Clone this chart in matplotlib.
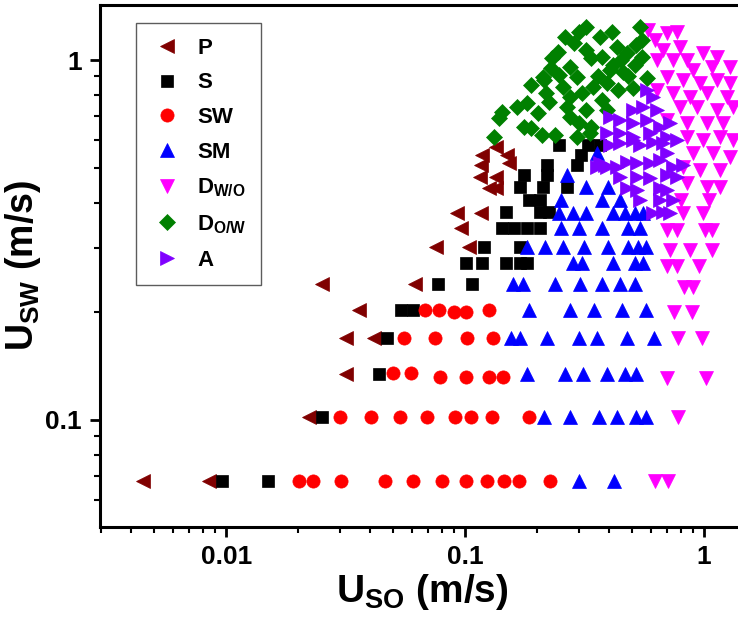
import numpy as np
import matplotlib
matplotlib.use("Agg")
import matplotlib.pyplot as plt
from matplotlib.ticker import FuncFormatter, LogLocator

plt.rcParams["font.family"] = ["Liberation Sans", "DejaVu Sans"]
plt.rcParams["font.weight"] = "bold"
plt.rcParams["mathtext.fontset"] = "custom"
plt.rcParams["mathtext.rm"] = "Liberation Sans"
plt.rcParams["mathtext.bf"] = "Liberation Sans:bold"

# === DATA (U_SO, U_SW in m/s) ===
p_x = [0.0045, 0.0085, 0.0221, 0.0316, 0.0316, 0.0415, 0.0359, 0.0251, 0.0616,
       0.0755, 0.104, 0.0962, 0.0925, 0.117,
       0.135, 0.118, 0.150, 0.117, 0.153, 0.115, 0.135, 0.126, 0.135]
p_y = [0.0677, 0.0677, 0.1017, 0.134, 0.169, 0.169, 0.202, 0.2386, 0.2386,
       0.3026, 0.3026, 0.341, 0.3756, 0.3756,
       0.573, 0.545, 0.545, 0.511, 0.518, 0.473, 0.473, 0.441, 0.441]

s_x = [0.0096, 0.0150, 0.0251, 0.0435, 0.047, 0.0538, 0.0605, 0.077, 0.107,
       0.101, 0.118, 0.149, 0.169, 0.182, 0.120, 0.169,
       0.143, 0.161, 0.181, 0.205, 0.149, 0.205, 0.225, 0.186, 0.205,
       0.169, 0.211, 0.266, 0.177, 0.221, 0.221, 0.293, 0.307, 0.248, 0.326, 0.366]
s_y = [0.0677, 0.0677, 0.1017, 0.134, 0.169, 0.202, 0.202, 0.2386, 0.2386,
       0.2727, 0.2727, 0.2727, 0.2727, 0.2727, 0.3026, 0.3026,
       0.341, 0.341, 0.341, 0.341, 0.378, 0.378, 0.378, 0.408, 0.408,
       0.444, 0.444, 0.444, 0.479, 0.479, 0.511, 0.511, 0.545, 0.581, 0.581, 0.581]

sw_x = [0.0201, 0.0230, 0.0301, 0.0461, 0.0605, 0.0801, 0.101, 0.1237, 0.1458, 0.1686, 0.2276,
        0.0299, 0.0403, 0.0533, 0.0692, 0.0908, 0.106, 0.130, 0.186,
        0.0498, 0.0593, 0.0785, 0.101, 0.126, 0.1445,
        0.0554, 0.0748, 0.102, 0.131,
        0.0679, 0.0778, 0.090, 0.101, 0.126]
sw_y = [0.0677] * 11 + [0.1017] * 8 + \
       [0.135, 0.135, 0.132, 0.132, 0.132, 0.132] + [0.169] * 4 + \
       [0.202, 0.202, 0.199, 0.199, 0.202]

sm_x = [0.301, 0.419,
        0.213, 0.276, 0.362, 0.431, 0.518, 0.570,
        0.182, 0.261, 0.313, 0.391, 0.466, 0.518,
        0.156, 0.170, 0.221, 0.2985, 0.355, 0.475, 0.617,
        0.186, 0.276, 0.345, 0.452, 0.570,
        0.158, 0.174, 0.239, 0.304, 0.373, 0.444, 0.513,
        0.282, 0.310, 0.415, 0.513, 0.554,
        0.182, 0.217, 0.256, 0.316, 0.395, 0.480, 0.528, 0.570,
        0.253, 0.2985, 0.376, 0.480, 0.538,
        0.248, 0.282, 0.322, 0.415, 0.466, 0.513, 0.554,
        0.253, 0.373, 0.444,
        0.322, 0.395, 0.266, 0.355]
sm_y = [0.0677] * 2 + [0.1017] * 6 + [0.134] * 6 + [0.169] * 7 + [0.202] * 5 + \
       [0.2386] * 7 + [0.2727] * 5 + [0.3026] * 8 + [0.341] * 5 + [0.3756] * 7 + \
       [0.408] * 3 + [0.444, 0.444, 0.479, 0.552]

dwo_x = [0.622, 0.706, 0.778, 0.699, 1.019, 0.778, 0.981, 0.748, 0.891, 0.824, 0.899,
         0.699, 0.771, 0.952, 0.719, 0.873, 1.08, 0.699, 0.771, 1.01, 1.08,
         0.80, 1.05, 0.816, 0.990,
         0.582, 0.622, 0.699, 0.770, 0.673, 0.793, 0.990, 1.134, 0.635, 0.741, 0.848,
         0.899, 1.080, 1.286, 0.699, 0.816, 0.962, 1.134, 1.286, 0.635, 0.741, 0.873,
         1.029, 1.249, 0.793, 0.935, 1.134, 1.324, 0.699, 0.848, 1.029, 1.202, 0.848,
         0.990, 1.167, 1.324, 0.899, 1.091, 1.286, 0.816, 0.962, 1.167, 0.848, 1.029, 1.167]
dwo_y = [0.0677, 0.0677, 0.1017, 0.131, 0.131, 0.169, 0.169, 0.200, 0.200, 0.234, 0.234,
         0.268, 0.268, 0.268, 0.296, 0.296, 0.296, 0.337, 0.337, 0.337, 0.337,
         0.408, 0.408, 0.3756, 0.3756,
         1.211, 1.137, 1.188, 1.196, 1.066, 1.087, 1.046, 1.019, 1.0, 1.0, 1.0,
         0.938, 0.956, 0.956, 0.897, 0.880, 0.863, 0.880, 0.863, 0.825, 0.810, 0.789,
         0.810, 0.789, 0.740, 0.740, 0.726, 0.740, 0.681, 0.668, 0.668, 0.668, 0.611,
         0.599, 0.611, 0.599, 0.552, 0.552, 0.538, 0.504, 0.495, 0.495, 0.455, 0.444, 0.444]

dow_x = [0.132, 0.143, 0.139, 0.165, 0.182, 0.177, 0.189, 0.201, 0.209, 0.237,
         0.189, 0.215, 0.230, 0.244, 0.261, 0.301, 0.322, 0.366, 0.411, 0.539, 0.549,
         0.274, 0.293, 0.322, 0.338, 0.376, 0.431, 0.475, 0.513, 0.576, 0.403, 0.457,
         0.342, 0.391, 0.435, 0.503, 0.219, 0.274, 0.310, 0.225, 0.268, 0.322, 0.376,
         0.274, 0.301, 0.338, 0.293, 0.332, 0.391, 0.232, 0.287, 0.415, 0.248, 0.211,
         0.256, 0.45, 0.48, 0.52, 0.36, 0.55]
dow_y = [0.611, 0.717, 0.690, 0.740, 0.760, 0.651, 0.647, 0.712, 0.619, 0.619,
         0.852, 0.880, 0.950, 1.052, 1.158, 1.196, 1.235, 1.158, 1.196, 1.235, 1.137,
         0.956, 0.897, 1.066, 1.013, 1.019, 1.087, 1.046, 0.969, 0.891, 0.938, 0.926,
         0.841, 0.863, 0.825, 0.836, 0.810, 0.789, 0.810, 0.764, 0.740, 0.726, 0.774,
         0.694, 0.668, 0.651, 0.611, 0.627, 0.726, 1.013, 1.115, 0.969, 0.909, 0.897,
         0.841, 1.0, 0.90, 1.10, 0.90, 1.02]

a_x = [0.403, 0.444, 0.503, 0.539, 0.611, 0.673, 0.699, 0.366, 0.391, 0.431, 0.475,
       0.523, 0.593, 0.653, 0.741, 0.816, 0.444, 0.523, 0.593, 0.699, 0.770, 0.475,
       0.523, 0.653, 0.699, 0.539, 0.653, 0.741, 0.611, 0.673, 0.720,
       0.576, 0.611, 0.503, 0.554, 0.635, 0.403, 0.444, 0.503, 0.576, 0.653, 0.720,
       0.391, 0.444, 0.503, 0.593, 0.699, 0.770, 0.355, 0.384]
a_y = [0.581, 0.588, 0.599, 0.581, 0.592, 0.588, 0.552, 0.518, 0.504, 0.504, 0.521,
       0.518, 0.518, 0.527, 0.504, 0.511, 0.473, 0.473, 0.470, 0.479, 0.473, 0.441,
       0.436, 0.441, 0.436, 0.408, 0.408, 0.408, 0.376, 0.378, 0.376,
       0.825, 0.789, 0.726, 0.740, 0.726, 0.694, 0.681, 0.668, 0.681, 0.651, 0.668,
       0.627, 0.627, 0.611, 0.627, 0.611, 0.599, 0.504, 0.511]

series = [
    ("P", p_x, p_y, "<", "#800000", 10.5),
    ("S", s_x, s_y, "s", "black", 8),
    ("SW", sw_x, sw_y, "o", "#ff0000", 9.5),
    ("SM", sm_x, sm_y, "^", "#0000ff", 10.5),
    (r"$\mathbf{D_{W/O}}$", dwo_x, dwo_y, "v", "#ff00ff", 10.5),
    (r"$\mathbf{D_{O/W}}$", dow_x, dow_y, "D", "#008000", 8.5),
    ("A", a_x, a_y, ">", "#8000ff", 10.5),
]

# === PLOT ===
fig = plt.figure(figsize=(7.38, 6.2), dpi=100)
ax = fig.add_axes([100 / 738, 93 / 620, 645 / 738, 522 / 620])

for lab, x, y, m, c, ms in series:
    ax.plot(x, y, ls="none", marker=m, ms=ms, color=c, mec=c, mew=0.5, label=lab)

ax.set_xscale("log")
ax.set_yscale("log")
ax.set_xlim(0.00296, 1.486)
ax.set_ylim(0.0504, 1.422)

fmt = FuncFormatter(lambda v, p: "%g" % v)
ax.xaxis.set_major_formatter(fmt)
ax.yaxis.set_major_formatter(fmt)
ax.xaxis.set_minor_formatter(FuncFormatter(lambda v, p: ""))
ax.yaxis.set_minor_formatter(FuncFormatter(lambda v, p: ""))
ax.xaxis.set_major_locator(LogLocator(base=10))
ax.yaxis.set_major_locator(LogLocator(base=10))

ax.tick_params(which="major", direction="out", length=7, width=2, labelsize=19, pad=6)
ax.tick_params(which="minor", direction="out", length=4, width=1.5)
ax.tick_params(top=False, right=False, which="both")
for sp in ax.spines.values():
    sp.set_linewidth(2.2)

ax.set_xlabel(r"$\mathbf{U_{SO}}$ (m/s)", fontsize=28, fontweight="bold", labelpad=2)
ax.set_ylabel(r"$\mathbf{U_{SW}}$ (m/s)", fontsize=27, fontweight="bold", labelpad=2)

leg = ax.legend(loc="upper left", bbox_to_anchor=(0.056, 0.965), borderaxespad=0,
                frameon=True, fancybox=False, edgecolor="#333333",
                labelspacing=0.62, handletextpad=0.6, borderpad=0.65, handlelength=1.5,
                prop={"weight": "bold", "size": 16})
leg.get_frame().set_linewidth(1.0)

fig.savefig("out.png", dpi=100)
